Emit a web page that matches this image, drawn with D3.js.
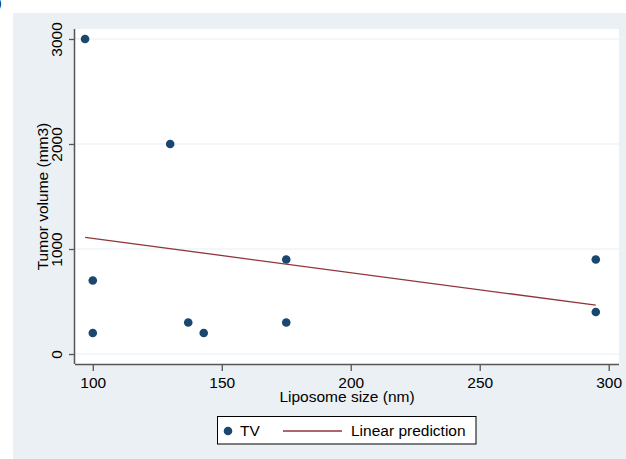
<!DOCTYPE html>
<html>
<head>
<meta charset="utf-8">
<script src="https://cdn.jsdelivr.net/npm/d3@7"></script>
<style>
body { margin: 0; background: #ffffff; }
text { font-family: "Liberation Sans", Arial, sans-serif; fill: #000; }
</style>
</head>
<body>
<svg id="c1" width="626" height="459"></svg>
<script>
// liposome size (nm) and tumor volume (mm3)
let sizeNm = [97, 130, 100, 100, 137, 143, 175, 175, 295, 295];
let tumorVol = [3000, 2000, 700, 200, 300, 200, 900, 300, 900, 400];

// linear prediction, read at both ends of the fitted line
let fitX = [97, 295];
let fitY = [1111, 465];

let xTicks = [100, 150, 200, 250, 300];
let yTicks = [0, 1000, 2000, 3000];

let svg = d3.select("#c1");

let plotLeft = 75, plotRight = 619, plotTop = 29, plotBottom = 364;
let fontSize = "15.5px";

// outer panel
svg.append("rect").attr("x", 13).attr("y", 13).attr("width", 626 - 13).attr("height", 459 - 13).attr("fill", "#eaf0f3");
svg.append("text").attr("x", -3).attr("y", 8).style("font-size", "14px").text(")");

// plot region
svg.append("rect").attr("x", plotLeft).attr("y", plotTop).attr("width", plotRight - plotLeft).attr("height", plotBottom - plotTop).attr("fill", "#ffffff");

let x = d3.scaleLinear().domain([93.1, 304]).range([plotLeft, plotRight]);
let y = d3.scaleLinear().domain([-95, 3095]).range([plotBottom, plotTop]);

// grid
svg.append("g").selectAll("line").data(yTicks).enter().append("line")
	.attr("x1", plotLeft).attr("x2", plotRight)
	.attr("y1", function(d) { return y(d); }).attr("y2", function(d) { return y(d); })
	.attr("stroke", "#eaf0f3").attr("stroke-width", 1.2);

// axes
let xAxis = svg.append("g").attr("transform", "translate(0," + plotBottom + ")")
	.call(d3.axisBottom(x).tickValues(xTicks).tickFormat(d3.format("d")).tickSize(7).tickPadding(6).tickSizeOuter(0));
let yAxis = svg.append("g").attr("transform", "translate(" + plotLeft + ",0)")
	.call(d3.axisLeft(y).tickValues(yTicks).tickFormat(d3.format("d")).tickSize(6).tickPadding(7).tickSizeOuter(0));

xAxis.select(".domain").attr("d", "M" + plotLeft + ",0.5H" + plotRight);
yAxis.select(".domain").attr("d", "M-0.5," + plotTop + "V" + plotBottom);

[xAxis, yAxis].forEach(function(a) {
	a.select(".domain").attr("stroke", "#555").attr("stroke-width", 1.5);
	a.selectAll(".tick line").attr("stroke", "#555").attr("stroke-width", 1.3);
	a.selectAll(".tick text").style("font-size", fontSize).style("font-family", "Liberation Sans, Arial, sans-serif").attr("fill", "#000");
});

yAxis.selectAll(".tick text")
	.attr("text-anchor", "middle")
	.attr("dy", null)
	.attr("x", null)
	.attr("transform", "translate(-13,0) rotate(-90)");

// axis titles
svg.append("text").attr("x", (plotLeft + plotRight) / 2).attr("y", 402).attr("text-anchor", "middle").style("font-size", fontSize).text("Liposome size (nm)");
svg.append("text").attr("transform", "translate(47.5," + ((plotTop + plotBottom) / 2) + ") rotate(-90)").attr("text-anchor", "middle").style("font-size", fontSize).text("Tumor volume (mm3)");

// points
svg.append("g").selectAll("circle").data(sizeNm).enter().append("circle")
	.attr("cx", function(d) { return x(d); })
	.attr("cy", function(d, i) { return y(tumorVol[i]); })
	.attr("r", 4.3)
	.attr("fill", "#1a476f");

// fitted line
let line = d3.line().x(function(d) { return x(d); }).y(function(d, i) { return y(fitY[i]); });
svg.append("path").attr("d", line(fitX)).attr("fill", "none").attr("stroke", "#90353b").attr("stroke-width", 1.3);

// legend
let legend = svg.append("g");
legend.append("rect").attr("x", 217.5).attr("y", 416.5).attr("width", 258.5).attr("height", 27.5).attr("fill", "#fff").attr("stroke", "#000").attr("stroke-width", 1);
legend.append("circle").attr("cx", 228).attr("cy", 431).attr("r", 4.3).attr("fill", "#1a476f");
legend.append("text").attr("x", 240).attr("y", 436).style("font-size", fontSize).text("TV");
legend.append("line").attr("x1", 283).attr("x2", 342).attr("y1", 431).attr("y2", 431).attr("stroke", "#90353b").attr("stroke-width", 1.3);
legend.append("text").attr("x", 351).attr("y", 436).style("font-size", fontSize).text("Linear prediction");
</script>
</body>
</html>
